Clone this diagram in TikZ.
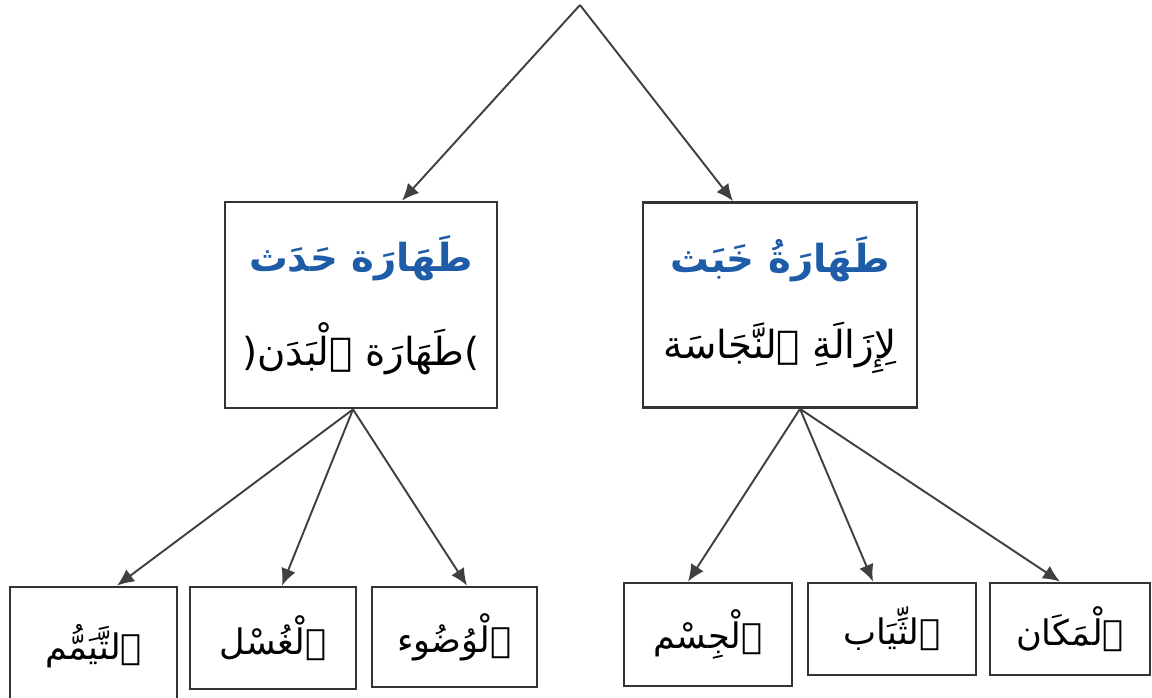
\documentclass[tikz,border=0pt]{standalone}
\usepackage{fontspec}
\usepackage{tikz}
\usetikzlibrary{arrows.meta}
\usepackage{xcolor}
\TeXXeTstate=1
\newfontfamily\arabicfont[Script=Arabic]{DejaVu Sans}
\newcommand{\artext}[1]{{\arabicfont\beginR #1\endR}}
\definecolor{headblue}{RGB}{30,92,168}

\begin{document}
\begin{tikzpicture}[x=0.02cm, y=-0.02cm, box/.style={draw=black!80, line width=1.6pt, inner sep=0pt, align=center}]
\tikzset{edge/.style = {-{Latex[width=3mm, length=3.4mm]}, black!75, line width=1.1pt}}
\useasboundingbox (0,0) rectangle (1152,697);
\coordinate (R) at (580,5);
\node[box, minimum width=5.44cm, minimum height=4.12cm, font=\fontsize{22}{26}\selectfont] (hadath) at (361,305)
  {\textcolor{headblue}{\bfseries\artext{طَهَارَة حَدَث}}\\[0.8cm]{\arabicfont(}\artext{طَهَارَة ٱلْبَدَن}{\arabicfont)}};
\node[box, minimum width=5.48cm, minimum height=4.1cm, font=\fontsize{22}{26}\selectfont] (khabath) at (780,305)
  {\textcolor{headblue}{\bfseries\artext{طَهَارَةُ خَبَث}}\\[0.8cm]\artext{لِإِزَالَةِ ٱلنَّجَاسَة}};
\node[box, minimum width=3.34cm, minimum height=2.36cm, font=\fontsize{20}{24}\selectfont] (tayammum) at (93.5,646) {\artext{ٱلتَّيَمُّم}};
\node[box, minimum width=3.32cm, minimum height=2.04cm, font=\fontsize{20}{24}\selectfont] (ghusl) at (273,638) {\artext{ٱلْغُسْل}};
\node[box, minimum width=3.3cm, minimum height=2cm, font=\fontsize{20}{24}\selectfont] (wudu) at (454.5,637) {\artext{ٱلْوُضُوء}};
\node[box, minimum width=3.36cm, minimum height=2.06cm, font=\fontsize{20}{24}\selectfont] (jism) at (708,634.5) {\artext{ٱلْجِسْم}};
\node[box, minimum width=3.36cm, minimum height=1.84cm, font=\fontsize{20}{24}\selectfont] (thiyab) at (892,629) {\artext{ٱلثِّيَاب}};
\node[box, minimum width=3.2cm, minimum height=1.84cm, font=\fontsize{20}{24}\selectfont] (makan) at (1070,629) {\artext{ٱلْمَكَان}};
\draw[edge] (R) -- ([xshift=0.82cm]hadath.north);
\draw[edge] (R) -- ([xshift=-0.94cm]khabath.north);
\draw[edge] ([xshift=-0.16cm]hadath.south) -- ([xshift=0.47cm]tayammum.north);
\draw[edge] ([xshift=-0.16cm]hadath.south) -- ([xshift=0.18cm]ghusl.north);
\draw[edge] ([xshift=-0.16cm]hadath.south) -- ([xshift=0.25cm]wudu.north);
\draw[edge] ([xshift=0.4cm]khabath.south) -- ([xshift=-0.4cm]jism.north);
\draw[edge] ([xshift=0.4cm]khabath.south) -- ([xshift=-0.38cm]thiyab.north);
\draw[edge] ([xshift=0.4cm]khabath.south) -- ([xshift=-0.2cm]makan.north);
\end{tikzpicture}
\end{document}
